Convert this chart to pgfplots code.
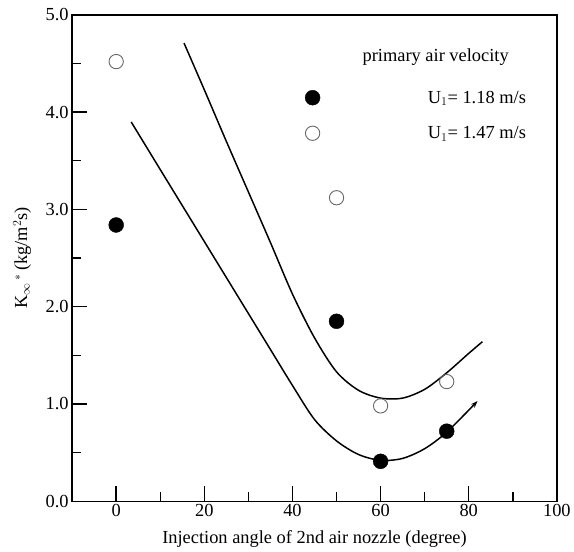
\documentclass[border=0pt]{standalone}
\usepackage{fontspec}
\setmainfont{Liberation Serif}
\usepackage{pgfplots}
\pgfplotsset{compat=1.18}
\usetikzlibrary{arrows.meta}

\begin{document}
\begin{tikzpicture}
\begin{axis}[
  name=ax,
  width=487.5pt, height=489pt, scale only axis,
  xmin=-10, xmax=100, ymin=0, ymax=5,
  xtick={0,20,...,100}, minor xtick={10,30,50,70,90},
  ytick={0,1,...,5}, minor ytick={0.5,1.5,2.5,3.5,4.5},
  tick pos=left, tick align=inside,
  major tick length=15pt, minor tick length=9pt,
  axis line style={line width=1.4pt},
  every tick/.style={black, line width=1.4pt},
  y tick label style={/pgf/number format/.cd, fixed, fixed zerofill, precision=1},
  /pgf/number format/assume math mode=true,
  tick label style={font=\fontsize{18.5}{22}\selectfont},
  label style={font=\fontsize{18.5}{22}\selectfont},
  xlabel={Injection angle of 2nd air nozzle (degree)},
  xlabel style={yshift=-7pt},
  ylabel={K$_{\infty}$\,$^{*}$\,(kg/m$^{2}$s)},
  ylabel style={at={(axis description cs:-0.103,0.5)}, anchor=center},
  legend style={draw=none, fill=none, at={(axis cs:44.3,4.16)}, anchor=north west,
    xshift=-10pt, yshift=10pt, row sep=18pt,
    font=\fontsize{18.5}{22}\selectfont},
  legend cell align=left,
  legend image code/.code={\draw[#1] plot coordinates {(0pt,0pt)}; \path[draw=none] (-8pt,0pt) (114pt,0pt);},
]
% measured samples
\addplot[only marks, mark=*, mark size=7.5pt, black]
  coordinates {(0,2.84) (50,1.85) (60,0.41) (75,0.72)};
\addlegendentry{U$_1$= 1.18 m/s}
\addplot[only marks, mark=o, mark size=7.2pt, black!60, mark options={line width=0.9pt, fill=white}]
  coordinates {(0,4.52) (50,3.12) (60,0.98) (75,1.23)};
\addlegendentry{U$_1$= 1.47 m/s}

% fitted trend lines
\addplot[smooth, line width=1.5pt, black, forget plot]
  coordinates {(15.4,4.71) (20,4.23) (25,3.70) (30,3.18) (35,2.66) (40,2.13)
               (45,1.68) (50,1.33) (55,1.14) (60,1.06) (65,1.06) (70,1.15)
               (75,1.32) (80,1.52) (83.1,1.64)};
\addplot[smooth, line width=1.5pt, black, forget plot, -{Stealth[length=7pt,width=5pt]}]
  coordinates {(3.4,3.90) (10,3.41) (15,3.04) (20,2.67) (25,2.30) (30,1.93)
               (35,1.56) (40,1.19) (45,0.84) (50,0.62) (55,0.48) (60,0.42)
               (65,0.44) (70,0.54) (75,0.71) (82,1.03)};

\node[font=\fontsize{18.5}{22}\selectfont] at (axis cs:72.5,4.57) {primary air velocity};
\end{axis}
\path ([xshift=-72.5pt,yshift=-46pt]ax.south west) rectangle ([xshift=14pt,yshift=15pt]ax.north east);
\end{tikzpicture}
\end{document}
